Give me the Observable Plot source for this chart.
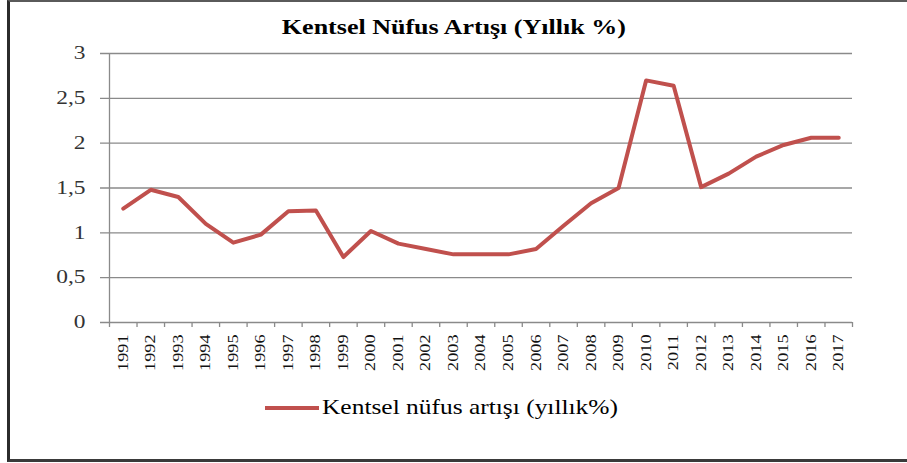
<!DOCTYPE html>
<html><head><meta charset="utf-8">
<script src="https://cdn.jsdelivr.net/npm/d3@7"></script>
<script src="https://cdn.jsdelivr.net/npm/@observablehq/plot@0.6"></script>
<style>
body{margin:0;background:#fff;}
#wrap{position:relative;width:907px;height:463px;overflow:hidden;font-family:"Liberation Serif",serif;background:#fff;}
#frame{position:absolute;left:7px;top:0;width:940px;height:457px;border-left:3px solid #2b2b2b;border-top:2px solid #5a5a5a;border-bottom:3px solid #3a3a3a;}
#title{position:absolute;left:0;width:907px;top:15px;text-align:center;color:#000;}
#title span{display:inline-block;font-weight:bold;font-size:21px;transform-origin:50% 50%;}
#chart{position:absolute;left:0;top:0;}
#legend{position:absolute;top:395px;left:265px;display:flex;align-items:center;color:#000;}
#legend .sw{width:54px;height:4px;background:#c0504d;margin-right:3px;}
#legend span{display:inline-block;font-size:21px;transform-origin:0 50%;}
</style></head>
<body>
<div id="wrap">
<div id="frame"></div>
<div id="chart"></div>
<div id="title"><span>Kentsel Nüfus Artışı (Yıllık %)</span></div>
<div id="legend"><div class="sw"></div><span>Kentsel nüfus artışı (yıllık%)</span></div>
</div>
<script>
const years = [1991,1992,1993,1994,1995,1996,1997,1998,1999,2000,2001,2002,2003,2004,2005,2006,2007,2008,2009,2010,2011,2012,2013,2014,2015,2016,2017];
const values = [1.27,1.48,1.40,1.10,0.89,0.98,1.24,1.25,0.73,1.02,0.88,0.82,0.76,0.76,0.76,0.82,1.08,1.33,1.50,2.70,2.64,1.51,1.66,1.85,1.98,2.06,2.06];
const yTicks = [0,0.5,1,1.5,2,2.5,3];

const data = years.map((y,i)=>({year:y,value:values[i]}));
const x0 = years[0]-0.5, x1 = years[years.length-1]+0.5;
const boundaries = years.map(y=>y-0.5).concat([x1]);

const chart = Plot.plot({
  width:907, height:400,
  marginLeft:109, marginRight:55, marginTop:53, marginBottom:78,
  x:{domain:[x0,x1], axis:null},
  y:{domain:[0,3], axis:null},
  style:{fontFamily:"'Liberation Serif', serif", background:"transparent"},
  marks:[
    Plot.ruleY(yTicks,{x1:x0,x2:x1,insetLeft:-9,stroke:"#8a8a8a",strokeWidth:1.3}),
    Plot.ruleX([x0],{y1:0,y2:3,stroke:"#8a8a8a",strokeWidth:1.3}),
    Plot.ruleX(boundaries,{y1:0,y2:0,insetBottom:-5,stroke:"#8a8a8a",strokeWidth:1.3}),
    Plot.text(yTicks,{x:x0,y:d=>d,text:d=>String(d).replace(".",","),textAnchor:"end",dx:-24,fontSize:18,fill:"#333"}),
    Plot.text(years,{x:d=>d,y:0,text:d=>String(d),rotate:-90,textAnchor:"end",dy:12,fontSize:14,fill:"#111"}),
    Plot.line(data,{x:"year",y:"value",stroke:"#c0504d",strokeWidth:4})
  ]
});
document.getElementById("chart").appendChild(chart);

// widen glyphs along the baseline, as in the reference rendering
chart.querySelectorAll("text").forEach(t => {
  const w = t.getComputedTextLength();
  if (w > 0) {
    t.setAttribute("textLength", (w * 1.3).toFixed(1));
    t.setAttribute("lengthAdjust", "spacingAndGlyphs");
  }
});
const ts = document.querySelector("#title span");
ts.style.transform = `scaleX(${344 / ts.getBoundingClientRect().width})`;
const ls = document.querySelector("#legend span");
ls.style.transform = `scaleX(${296 / ls.getBoundingClientRect().width})`;
</script>
</body></html>
